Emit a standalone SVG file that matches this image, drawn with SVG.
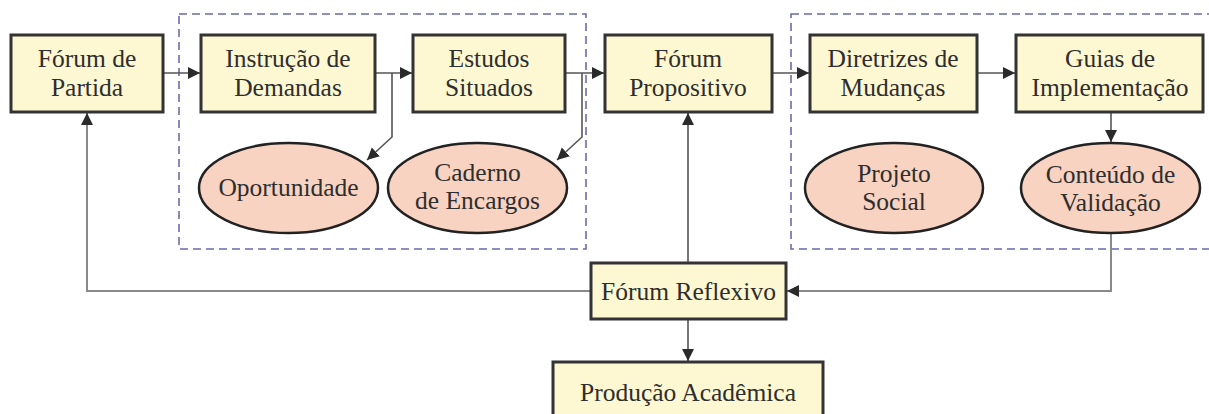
<svg xmlns="http://www.w3.org/2000/svg" width="1209" height="414" viewBox="0 0 1209 414">
<style>
.box{fill:#fdf8d2;stroke:#333;stroke-width:3}
.ell{fill:#f8d3c2;stroke:#222;stroke-width:2.5}
.grp{fill:none;stroke:#6b6bab;stroke-width:1.6;stroke-dasharray:8 5}
.t{font-family:"Liberation Serif","Times New Roman",serif;font-size:25.5px;fill:#2e2e2e;text-anchor:middle}
.c{fill:none;stroke:#555;stroke-width:1.6}
.cg{fill:none;stroke:#8a8a8a;stroke-width:2}
</style>
<defs>
<marker id="ah" markerUnits="userSpaceOnUse" markerWidth="14" markerHeight="14" refX="12" refY="6" orient="auto">
<path d="M0,0 L12,6 L0,12 Z" fill="#2a2a2a"/>
</marker>
</defs>
<rect width="1209" height="414" fill="#fff"/>
<g id="groups">
<rect class="grp" x="179" y="14" width="407" height="235"/>
<rect class="grp" x="791" y="14" width="430" height="235"/>
</g>
<g id="connectors">
<path class="c" d="M163,73 H200" marker-end="url(#ah)"/>
<path class="c" d="M375,73 H412" marker-end="url(#ah)"/>
<path class="c" d="M392,73 V137 L367,160" marker-end="url(#ah)"/>
<path class="c" d="M565,73 H604" marker-end="url(#ah)"/>
<path class="c" d="M582,73 V137 L557,160" marker-end="url(#ah)"/>
<path class="c" d="M772,73 H809" marker-end="url(#ah)"/>
<path class="c" d="M977,73 H1015" marker-end="url(#ah)"/>
<path class="c" d="M1111,113 V142" marker-end="url(#ah)"/>
<path class="cg" d="M1111,233 V291 H787" marker-end="url(#ah)"/>
<path class="cg" d="M591,291 H87 V113" marker-end="url(#ah)"/>
<path class="c" d="M688,263 V113" marker-end="url(#ah)"/>
<path class="c" d="M688,319 V361" marker-end="url(#ah)"/>
</g>
<g id="forum-partida">
<rect class="box" x="11" y="35" width="152" height="77"/>
<text class="t" x="87" y="67">Fórum de</text>
<text class="t" x="87" y="96">Partida</text>
</g>
<g id="instrucao-demandas">
<rect class="box" x="201" y="35" width="174" height="77"/>
<text class="t" x="288" y="67">Instrução de</text>
<text class="t" x="288" y="96">Demandas</text>
</g>
<g id="estudos-situados">
<rect class="box" x="413" y="35" width="152" height="77"/>
<text class="t" x="489" y="67">Estudos</text>
<text class="t" x="489" y="96">Situados</text>
</g>
<g id="forum-propositivo">
<rect class="box" x="605" y="35" width="167" height="77"/>
<text class="t" x="688" y="67">Fórum</text>
<text class="t" x="688" y="96">Propositivo</text>
</g>
<g id="diretrizes-mudancas">
<rect class="box" x="810" y="35" width="167" height="77"/>
<text class="t" x="893" y="67">Diretrizes de</text>
<text class="t" x="893" y="96">Mudanças</text>
</g>
<g id="guias-implementacao">
<rect class="box" x="1016" y="35" width="187" height="77"/>
<text class="t" x="1110" y="67">Guias de</text>
<text class="t" x="1110" y="96">Implementação</text>
</g>
<g id="oportunidade">
<ellipse class="ell" cx="288.5" cy="188" rx="89.5" ry="45"/>
<text class="t" x="288.5" y="196">Oportunidade</text>
</g>
<g id="caderno-encargos">
<ellipse class="ell" cx="477.5" cy="188" rx="89.5" ry="45"/>
<text class="t" x="477.5" y="181">Caderno</text>
<text class="t" x="477.5" y="209">de Encargos</text>
</g>
<g id="projeto-social">
<ellipse class="ell" cx="894" cy="188" rx="89" ry="45"/>
<text class="t" x="894" y="182">Projeto</text>
<text class="t" x="894" y="210">Social</text>
</g>
<g id="conteudo-validacao">
<ellipse class="ell" cx="1110.5" cy="188" rx="89.5" ry="45"/>
<text class="t" x="1110.5" y="183">Conteúdo de</text>
<text class="t" x="1110.5" y="211">Validação</text>
</g>
<g id="forum-reflexivo">
<rect class="box" x="591" y="263" width="195" height="56"/>
<text class="t" x="688.5" y="300">Fórum Reflexivo</text>
</g>
<g id="producao-academica">
<rect class="box" x="553" y="362" width="270" height="70"/>
<text class="t" x="688" y="401">Produção Acadêmica</text>
</g>
</svg>
